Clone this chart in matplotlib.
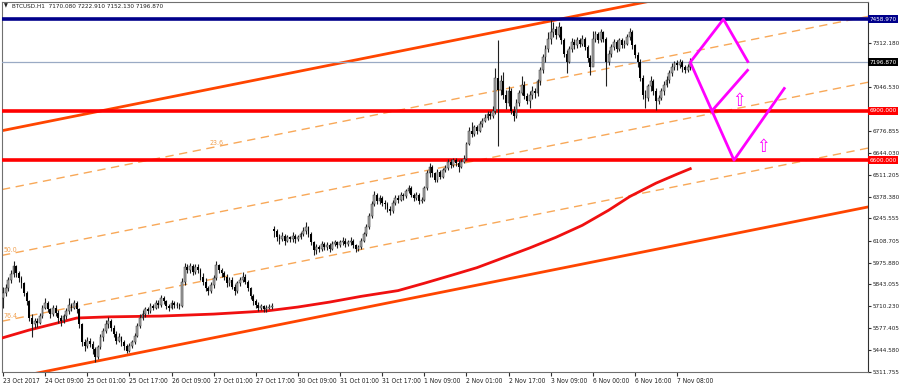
import matplotlib
matplotlib.use("Agg")
import matplotlib.pyplot as plt
import numpy as np

# BTCUSD H1 bars (open = previous close unless gapped)
closes = [
    5790, 5820, 5870, 5905, 5955, 5910, 5880, 5850, 5790, 5740,
    5640, 5600, 5620, 5610, 5650, 5700, 5730, 5690, 5660, 5700,
    5670, 5640, 5620, 5650, 5680, 5720, 5700, 5730, 5690, 5600,
    5490, 5470, 5500, 5480, 5450, 5400, 5460, 5520, 5560, 5600,
    5620, 5580, 5540, 5500, 5520, 5490, 5470, 5440, 5470, 5490,
    5530, 5590, 5640, 5660, 5690, 5680, 5710, 5700, 5730, 5720,
    5760, 5740, 5710, 5700, 5730, 5715, 5720, 5710, 5860, 5950,
    5930, 5955, 5920, 5950, 5930, 5890, 5860, 5820, 5800, 5840,
    5880, 5960, 5930, 5910, 5890, 5850, 5870, 5830, 5800, 5850,
    5870, 5890, 5860, 5820, 5770, 5740, 5720, 5700, 5710, 5690,
    5700, 5705, 5710, 6170, 6130, 6120, 6140, 6110, 6130, 6120,
    6140, 6120, 6130, 6150, 6170, 6190, 6150, 6100, 6050, 6070,
    6060, 6090, 6070, 6080, 6060, 6090, 6100, 6080, 6100, 6110,
    6090, 6100, 6110, 6080, 6060, 6070, 6110, 6150, 6190, 6260,
    6330, 6390, 6350, 6370, 6340, 6330, 6300, 6290, 6340, 6370,
    6360, 6390, 6380, 6410, 6430, 6390, 6370, 6390, 6350, 6360,
    6430, 6520, 6560, 6520, 6480, 6530, 6500, 6540, 6550, 6590,
    6570, 6600, 6580, 6560, 6590, 6610, 6700, 6780, 6760, 6800,
    6780, 6820, 6840, 6860, 6880, 6870, 6900, 7100, 7030, 7080,
    7000, 6950, 7020, 6900, 6870, 6950, 7010, 7060, 6990, 6960,
    7000, 7020, 7010, 7080, 7150, 7230, 7280, 7340, 7380, 7400,
    7360, 7410, 7330, 7250, 7200, 7280, 7320, 7300, 7330, 7310,
    7340, 7290, 7220, 7170, 7340, 7370, 7330, 7380, 7340, 7200,
    7250, 7290, 7320, 7280, 7330, 7300, 7310, 7350, 7380, 7300,
    7240, 7200, 7100, 7000, 6980, 7050, 7080, 7020, 6960, 6980,
    7020, 7060, 7090, 7130, 7170, 7190, 7180, 7200, 7170, 7150,
    7170.08, 7196.87,
]
highs = [
    5830, 5845, 5890, 5930, 5985, 5960, 5925, 5895, 5860, 5800,
    5750, 5660, 5640, 5640, 5670, 5720, 5760, 5740, 5700, 5715,
    5715, 5685, 5655, 5665, 5700, 5760, 5730, 5745, 5740, 5700,
    5610, 5510, 5520, 5515, 5495, 5460, 5475, 5540, 5580, 5625,
    5645, 5630, 5595, 5560, 5545, 5530, 5505, 5480, 5485, 5505,
    5545, 5605, 5660, 5685, 5705, 5705, 5730, 5725, 5750, 5745,
    5780, 5770, 5750, 5725, 5745, 5740, 5735, 5730, 5880, 5975,
    5970, 5972, 5965, 5965, 5968, 5945, 5910, 5880, 5835, 5860,
    5900, 5988, 5970, 5945, 5925, 5905, 5890, 5885, 5845, 5865,
    5890, 5920, 5905, 5870, 5830, 5785, 5755, 5735, 5725, 5720,
    5715, 5725, 5730, 6200, 6180, 6150, 6160, 6150, 6145, 6140,
    6160, 6150, 6145, 6165, 6195, 6225, 6200, 6160, 6110, 6090,
    6085, 6105, 6100, 6100, 6095, 6105, 6115, 6110, 6115, 6130,
    6125, 6115, 6130, 6120, 6090, 6085, 6125, 6165, 6210, 6280,
    6350, 6410, 6400, 6390, 6380, 6355, 6345, 6320, 6355, 6390,
    6390, 6405, 6400, 6425, 6450, 6440, 6400, 6405, 6400, 6375,
    6440, 6540, 6580, 6570, 6530, 6545, 6540, 6555, 6570, 6610,
    6605, 6615, 6615, 6600, 6605, 6630, 6710, 6800, 6830, 6815,
    6815, 6840, 6860, 6880, 6900, 6900, 6930, 7160, 7330, 7120,
    7140, 7030, 7050, 7040, 6930, 6970, 7030, 7110, 7080, 7010,
    7020, 7050, 7040, 7095, 7170, 7250, 7300, 7380, 7458.97, 7440,
    7420, 7440, 7420, 7345, 7270, 7295, 7345, 7340, 7350, 7345,
    7360, 7350, 7300, 7240, 7390, 7385, 7380, 7400, 7390, 7350,
    7270, 7310, 7340, 7335, 7345, 7345, 7330, 7370, 7405, 7395,
    7310, 7260, 7215, 7120, 7030, 7065, 7110, 7095, 7040, 7000,
    7040, 7080, 7110, 7150, 7195, 7205, 7210, 7215, 7210, 7180,
    7185, 7222.91,
]
lows = [
    5700, 5770, 5805, 5850, 5890, 5890, 5860, 5820, 5770, 5720,
    5620, 5525, 5580, 5585, 5600, 5640, 5690, 5675, 5640, 5650,
    5650, 5610, 5590, 5605, 5635, 5665, 5680, 5690, 5670, 5580,
    5470, 5440, 5455, 5460, 5420, 5372, 5390, 5450, 5500, 5545,
    5580, 5560, 5520, 5480, 5490, 5470, 5445, 5425, 5430, 5455,
    5480, 5520, 5575, 5625, 5645, 5665, 5670, 5685, 5690, 5700,
    5705, 5725, 5695, 5680, 5690, 5700, 5700, 5690, 5705, 5840,
    5910, 5915, 5900, 5905, 5915, 5870, 5840, 5800, 5780, 5790,
    5820, 5870, 5915, 5890, 5870, 5830, 5835, 5815, 5780, 5790,
    5835, 5855, 5845, 5800, 5755, 5720, 5700, 5680, 5685, 5672,
    5675, 5690, 5690, 6130, 6110, 6090, 6105, 6085, 6100, 6100,
    6100, 6095, 6105, 6120, 6135, 6150, 6130, 6080, 6020, 6030,
    6040, 6045, 6050, 6055, 6040, 6050, 6075, 6065, 6070, 6085,
    6070, 6075, 6085, 6065, 6040, 6045, 6060, 6100, 6140, 6180,
    6250, 6320, 6330, 6335, 6320, 6305, 6285, 6265, 6280, 6325,
    6340, 6350, 6360, 6370, 6400, 6375, 6350, 6360, 6335, 6340,
    6350, 6420, 6500, 6500, 6465, 6470, 6485, 6490, 6525, 6540,
    6555, 6560, 6565, 6525, 6550, 6580, 6600, 6690, 6740, 6750,
    6760, 6770, 6805, 6830, 6845, 6850, 6855, 6880, 6685, 7000,
    6970, 6910, 6930, 6880, 6840, 6860, 6930, 7000, 6970, 6940,
    6915, 6970, 6980, 6990, 7060, 7130, 7200, 7260, 7310, 7350,
    7340, 7350, 7310, 7230, 7130, 7190, 7260, 7280, 7285, 7290,
    7295, 7270, 7200, 7120, 7180, 7320, 7315, 7320, 7320, 7050,
    7180, 7230, 7270, 7260, 7265, 7285, 7285, 7300, 7330, 7280,
    7225, 7170, 7080, 6970, 6915, 6960, 7020, 7000, 6905, 6940,
    6965, 7000, 7045, 7070, 7110, 7150, 7150, 7160, 7140, 7130,
    7140, 7152.13,
]
gap_opens = {0: 5760, 103: 6180}

date_labels = ['23 Oct 2017', '24 Oct 09:00', '25 Oct 01:00', '25 Oct 17:00',
               '26 Oct 09:00', '27 Oct 01:00', '27 Oct 17:00', '30 Oct 09:00',
               '31 Oct 01:00', '31 Oct 17:00', '1 Nov 09:00', '2 Nov 01:00',
               '2 Nov 17:00', '3 Nov 09:00', '6 Nov 00:00', '6 Nov 16:00',
               '7 Nov 08:00']
price_ticks = [7312.180, 7046.530, 6776.855, 6644.030, 6511.205, 6378.380,
               6245.555, 6108.705, 5975.880, 5843.055, 5710.230, 5577.405,
               5444.580, 5311.755]

# horizontal levels: (price, colour, width)
hlines = [(7458.97, '#00008B', 2.6), (6900.0, '#FF0000', 2.6), (6600.0, '#FF0000', 2.6)]
bid = 7196.87

# moving average, sampled along the curve
ma_bars = [0, 10, 20, 28, 40, 60, 80, 100, 112, 124, 136, 150, 160, 170,
           180, 190, 200, 210, 220, 230, 238, 248, 256, 261]
ma_values = [5518, 5565, 5605, 5638, 5645, 5650, 5662, 5681, 5705, 5735,
             5770, 5805, 5850, 5897, 5945, 6005, 6065, 6130, 6203, 6295,
             6378, 6460, 6515, 6548]

# fibo channel: top line through two anchors, bottom line through a third
fibo_top = [(0, 6781.0), (300, 7743.4)]
fibo_bottom = 5261.0
fibo_levels = [0.0, 23.6, 50.0, 76.4, 100.0]
fibo_labels = {23.6: 78, 50.0: 0, 76.4: 0}

# projected swings
zigzag_1 = [(261, 7196.87), (273.6, 7458.97), (283.1, 7194)]
zigzag_2 = [(261, 7196.87), (277.6, 6600), (297.0, 7044)]
zigzag_3 = [(283.1, 7154), (269.2, 6900)]
arrows = [(279.6, 6962), (288.8, 6682)]

plt.rcParams['font.family'] = ['DejaVu Sans']
plt.rcParams['font.stretch'] = 'condensed'

fig = plt.figure(figsize=(9, 3.87), dpi=100)
ax = fig.add_axes([2 / 900, 1 - 372 / 387, 866 / 900, 370 / 387])
x0, x1 = -0.38, 328.5
ax.set_xlim(x0, x1)
ax.set_ylim(5309, 7564)

n = len(closes)
idx = np.arange(n)
opens = [gap_opens.get(i, closes[i - 1] if i > 0 else closes[0]) for i in range(n)]
opens = np.array(opens, dtype=float)
c = np.array(closes, dtype=float)

# fibo channel lines
slope = (fibo_top[1][1] - fibo_top[0][1]) / (fibo_top[1][0] - fibo_top[0][0])
width = fibo_top[0][1] - fibo_bottom
xs = np.array([x0, x1])
for lv in fibo_levels:
    ys = fibo_top[0][1] + slope * (xs - fibo_top[0][0]) - lv / 100 * width
    if lv in (0.0, 100.0):
        ax.plot(xs, ys, color='#FF4500', lw=2, zorder=2)
    else:
        ax.plot(xs, ys, color='#F8A858', lw=1, dashes=(6, 4), zorder=2)
for lv, bx in fibo_labels.items():
    y = fibo_top[0][1] + slope * (bx - fibo_top[0][0]) - lv / 100 * width
    ax.text(bx + 0.3, y + 12, f'{lv:.1f}', color='#F0A050', fontsize=5,
            ha='left', va='bottom', zorder=3)

for price, col, lw in hlines:
    ax.axhline(price, color=col, lw=lw, zorder=3)
ax.axhline(bid, color='#9AAAC4', lw=0.9, zorder=3)

ax.plot(ma_bars, ma_values, color='#F01010', lw=2, zorder=4)

# candles
ax.vlines(idx, lows, highs, color='#202020', lw=0.8, zorder=5)
up = c >= opens
ax.bar(idx[up], (c - opens)[up], bottom=opens[up], width=0.7,
       color='#a8a8a8', edgecolor='#303030', linewidth=0.35, zorder=6)
ax.bar(idx[~up], (opens - c)[~up], bottom=c[~up], width=0.7,
       color='#000000', linewidth=0, zorder=6)

for pts in (zigzag_1, zigzag_2, zigzag_3):
    px, py = zip(*pts)
    ax.plot(px, py, color='#FF00FF', lw=2, zorder=7, solid_capstyle='butt')
for bx, by in arrows:
    ax.text(bx, by, '\u21e7', color='#FF00FF', fontsize=13, ha='center',
            va='center', zorder=7)

# axes
for side in ('left', 'top', 'bottom'):
    ax.spines[side].set_color('#707070')
    ax.spines[side].set_linewidth(0.8)
ax.spines['right'].set_color('#303030')
ax.yaxis.tick_right()
ax.set_yticks(price_ticks)
ax.set_yticklabels([f'{p:.3f}' for p in price_ticks])
ax.set_xticks(np.arange(len(date_labels)) * 16)
ax.set_xticklabels(date_labels, ha='left')
ax.tick_params(axis='y', length=2.5, pad=0.6, labelsize=4.6, colors='#303030',
               labelcolor='#202020')
ax.tick_params(axis='x', length=3, pad=1.5, labelsize=4.8, colors='#303030',
               labelcolor='#202020')

tags = [(7458.97, '#00008B'), (bid, '#000000'), (6900.0, '#FF0000'), (6600.0, '#FF0000')]
for price, col in tags:
    ax.text(1.0015, price, f'{price:.3f}', transform=ax.get_yaxis_transform(),
            ha='left', va='center', fontsize=4.6, color='white', zorder=10,
            clip_on=False,
            bbox=dict(boxstyle='square,pad=0.2', fc=col, ec='none'))

ax.text(2 / 866, 1 - 4 / 370, '\u25bc', transform=ax.transAxes, fontsize=4,
        va='center', ha='left', color='#202020')
ax.text(10 / 866, 1 - 4 / 370, 'BTCUSD.H1  7170.080 7222.910 7152.130 7196.870',
        transform=ax.transAxes, fontsize=4.6, va='center', ha='left',
        color='#202020')

fig.savefig('out.png', dpi=100, facecolor='white')
